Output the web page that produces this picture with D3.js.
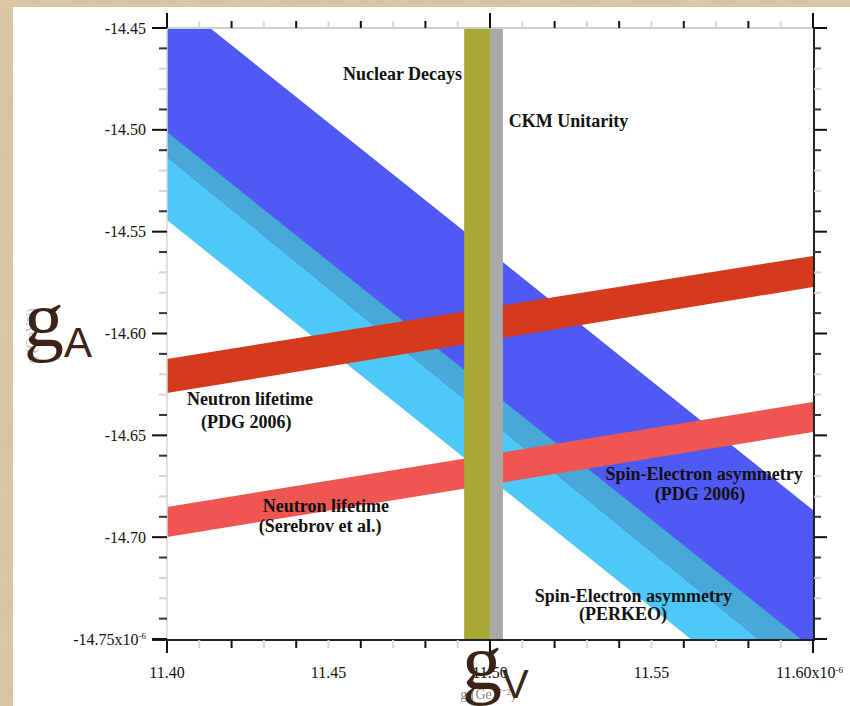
<!DOCTYPE html>
<html>
<head>
<meta charset="utf-8">
<script src="https://cdn.jsdelivr.net/npm/d3@7"></script>
<style>
  body { margin: 0; background: #dcc9a6; }
  svg { display: block; }
</style>
</head>
<body>
<svg id="chart" width="850" height="706"></svg>
<script>
// ---- data (gV along x, gA along y, both x10^-6 GeV^-2) ----
const edgeX = [11.40, 11.60];                       // band edges are given at both x limits
const pdgAsymUpper = [-14.4331, -14.6867];          // Spin-Electron asymmetry (PDG 2006)
const pdgAsymLower = [-14.5133, -14.7719];
const perkeoUpper = [-14.5011, -14.7548];           // Spin-Electron asymmetry (PERKEO)
const perkeoLower = [-14.5443, -14.7980];
const tauPdgUpper = [-14.6125, -14.5619];           // Neutron lifetime (PDG 2006)
const tauPdgLower = [-14.6292, -14.5772];
const tauSerebrovUpper = [-14.6852, -14.6336];      // Neutron lifetime (Serebrov et al.)
const tauSerebrovLower = [-14.6999, -14.6484];
const nuclearX = [11.4920, 11.5000];                // Nuclear Decays
const ckmX = [11.5000, 11.5040];                    // CKM Unitarity

const yTickValues = [-14.45, -14.50, -14.55, -14.60, -14.65, -14.70, -14.75];
const yTickLabels = ["-14.45", "-14.50", "-14.55", "-14.60", "-14.65", "-14.70", "-14.75x10"];
const xTickValues = [11.40, 11.45, 11.50, 11.55, 11.60];
const xTickLabels = ["11.40", "11.45", "11.50", "11.55", "11.60x10"];

const labelText = ["Nuclear Decays", "CKM Unitarity", "Neutron lifetime", "(PDG 2006)",
  "Spin-Electron asymmetry", "(PDG 2006)", "Neutron lifetime", "(Serebrov et al.)",
  "Spin-Electron asymmetry", "(PERKEO)"];
const labelX = [11.4729, 11.5243, 11.4257, 11.4245, 11.5663, 11.5650, 11.4492, 11.4474, 11.5444, 11.5412];
const labelY = [-14.4755, -14.4986, -14.6351, -14.6464, -14.6719, -14.6817, -14.6876, -14.6975, -14.7318, -14.7407];

// ---- setup ----
const svg = d3.select("#chart");
const W = 850, H = 706;
const x = d3.scaleLinear().domain([11.40, 11.60]).range([167, 813]);
const y = d3.scaleLinear().domain([-14.75, -14.45]).range([639, 28]);

const defs = svg.append("defs");
const paper = defs.append("filter").attr("id", "paper");
paper.append("feTurbulence").attr("type", "fractalNoise").attr("baseFrequency", "0.035").attr("numOctaves", 3).attr("seed", 4);
paper.append("feColorMatrix").attr("values", "0 0 0 0 0.55  0 0 0 0 0.42  0 0 0 0 0.25  0 0 0 0.55 0");
defs.append("clipPath").attr("id", "plotclip")
  .append("rect").attr("x", x(11.40)).attr("y", y(-14.45))
  .attr("width", x(11.60) - x(11.40)).attr("height", y(-14.75) - y(-14.45));

// parchment frame + white sheet
svg.append("rect").attr("width", W).attr("height", H).attr("fill", "#dcc9a6");
svg.append("rect").attr("width", W).attr("height", H).attr("filter", "url(#paper)").attr("opacity", 0.5);
svg.append("rect").attr("x", 13).attr("y", 7).attr("width", W - 13).attr("height", H - 7).attr("fill", "#fff");

// ---- bands ----
const plot = svg.append("g").attr("clip-path", "url(#plotclip)");
const area = d3.area().x(d => x(d.x)).y0(d => y(d.lo)).y1(d => y(d.hi));
const band = (upper, lower) => edgeX.map((v, i) => ({x: v, hi: upper[i], lo: lower[i]}));

const slanted = [
  {d: band(perkeoUpper, perkeoLower), fill: "#4ec8f8"},
  {d: band(pdgAsymUpper, pdgAsymLower), fill: "#4f5af5"},
  {d: band(perkeoUpper, pdgAsymLower), fill: "#48a8d8"},   // overlap of the two asymmetry bands
  {d: band(tauPdgUpper, tauPdgLower), fill: "#d63a1c"},
  {d: band(tauSerebrovUpper, tauSerebrovLower), fill: "#ef5652"}
];
plot.selectAll("path.band").data(slanted).enter().append("path")
  .attr("class", "band")
  .attr("d", b => area(b.d))
  .attr("fill", b => b.fill);

const vertical = [{r: nuclearX, fill: "#a8a835"}, {r: ckmX, fill: "#a9a9a9"}];
plot.selectAll("rect.vband").data(vertical).enter().append("rect")
  .attr("class", "vband")
  .attr("x", b => x(b.r[0]))
  .attr("width", b => x(b.r[1]) - x(b.r[0]))
  .attr("y", y(-14.45))
  .attr("height", y(-14.75) - y(-14.45))
  .attr("fill", b => b.fill);

// ---- frame and ticks ----
const frame = svg.append("g");
const x0 = x(11.40), x1 = x(11.60) + 1, y0 = y(-14.45), y1 = y(-14.75) + 1;
frame.append("line").attr("x1", x0).attr("x2", x1).attr("y1", y0).attr("y2", y0).attr("stroke", "#cfcfcf").attr("stroke-width", 2);
frame.append("line").attr("x1", x0).attr("x2", x0).attr("y1", y0).attr("y2", y1).attr("stroke", "#d6d6d6").attr("stroke-width", 1.5);
frame.append("line").attr("x1", x0 - 15).attr("x2", x1 + 1).attr("y1", y1).attr("y2", y1).attr("stroke", "#222").attr("stroke-width", 2);
frame.append("line").attr("x1", x1).attr("x2", x1).attr("y1", y0).attr("y2", y1 + 1).attr("stroke", "#222").attr("stroke-width", 2);

const yMinor = d3.range(0, 31).map(i => ({v: -14.75 + i * 0.01, k: i % 5}));
const xMinor = d3.range(0, 21).map(i => ({v: 11.40 + i * 0.01, k: i % 10 === 0 ? 0 : (i % 2 === 0 ? 1 : 2)}));
const yCol = k => k === 0 ? "#111" : (k === 1 || k === 4 ? "#333" : "#d4d4d4");
const xCol = k => k === 2 ? "#d8d8d8" : "#111";

// left ticks
frame.selectAll("line.yl").data(yMinor).enter().append("line").attr("class", "yl")
  .attr("x1", x0).attr("x2", d => d.k === 0 ? x0 - 15 : x0 - 8)
  .attr("y1", d => y(d.v)).attr("y2", d => y(d.v))
  .attr("stroke", d => yCol(d.k)).attr("stroke-width", 2);
// right ticks
frame.selectAll("line.yr").data(yMinor).enter().append("line").attr("class", "yr")
  .attr("x1", x1).attr("x2", d => d.k === 0 ? x1 + 13 : x1 + 7)
  .attr("y1", d => y(d.v)).attr("y2", d => y(d.v))
  .attr("stroke", d => yCol(d.k)).attr("stroke-width", 2);
// bottom ticks
frame.selectAll("line.xb").data(xMinor).enter().append("line").attr("class", "xb")
  .attr("x1", d => x(d.v)).attr("x2", d => x(d.v))
  .attr("y1", y1).attr("y2", d => d.k === 0 ? y1 + 13 : y1 + 8)
  .attr("stroke", d => xCol(d.k)).attr("stroke-width", 2);
// top ticks
frame.selectAll("line.xt").data(xMinor).enter().append("line").attr("class", "xt")
  .attr("x1", d => x(d.v)).attr("x2", d => x(d.v))
  .attr("y1", y0).attr("y2", d => d.k === 0 ? y0 - 15 : y0 - 7)
  .attr("stroke", d => xCol(d.k)).attr("stroke-width", 2);

// tick labels
const tickFont = "'Liberation Serif', 'Times New Roman', serif";
const yl = svg.append("g").attr("font-family", tickFont).attr("font-size", 16).attr("fill", "#111")
  .selectAll("text").data(yTickValues).enter().append("text")
  .attr("x", 146).attr("y", d => y(d)).attr("dy", "0.35em").attr("text-anchor", "end");
yl.append("tspan").text((d, i) => yTickLabels[i]);
yl.filter((d, i) => i === yTickValues.length - 1)
  .append("tspan").attr("dy", "-0.6em").attr("font-size", 9).text("-6");

const xl = svg.append("g").attr("font-family", tickFont).attr("font-size", 16).attr("fill", "#111")
  .selectAll("text").data(xTickValues).enter().append("text")
  .attr("x", d => x(d)).attr("y", 678).attr("text-anchor", (d, i) => i === xTickValues.length - 1 ? "start" : "middle")
  .attr("dx", (d, i) => i === xTickValues.length - 1 ? -37 : 0);
xl.append("tspan").text((d, i) => xTickLabels[i]);
xl.filter((d, i) => i === xTickValues.length - 1)
  .append("tspan").attr("dy", "-0.6em").attr("font-size", 9).text("-6");

// ---- band annotations ----
svg.append("g").attr("font-family", tickFont).attr("font-weight", "bold").attr("font-size", 18).attr("fill", "#111")
  .selectAll("text").data(labelText).enter().append("text")
  .attr("x", (d, i) => x(labelX[i])).attr("y", (d, i) => y(labelY[i]))
  .attr("text-anchor", "middle")
  .text(d => d);

// ---- axis titles: faint original titles with the large overlays on top ----
svg.append("text").attr("transform", "translate(36,336) rotate(-90)")
  .attr("text-anchor", "middle").attr("font-family", tickFont).attr("font-size", 14)
  .attr("fill", "#888").attr("opacity", 0.6).text("g (GeV⁻²)");
svg.append("text").attr("x", 488).attr("y", 699)
  .attr("text-anchor", "middle").attr("font-family", tickFont).attr("font-size", 14)
  .attr("fill", "#666").attr("opacity", 0.8).text("g (GeV⁻²)");

const titleCol = "#3b2417";
const gA = svg.append("text").attr("x", 24).attr("y", 346).attr("fill", titleCol);
gA.append("tspan").attr("font-family", tickFont).attr("font-size", 80).text("g");
gA.append("tspan").attr("font-family", "'Liberation Sans', Arial, sans-serif").attr("font-size", 42).attr("dy", 11).text("A");

const gV = svg.append("text").attr("x", 462).attr("y", 689).attr("fill", titleCol);
gV.append("tspan").attr("font-family", tickFont).attr("font-size", 80).text("g");
gV.append("tspan").attr("font-family", "'Liberation Sans', Arial, sans-serif").attr("font-size", 40).attr("dy", 9).text("V");
</script>
</body>
</html>
